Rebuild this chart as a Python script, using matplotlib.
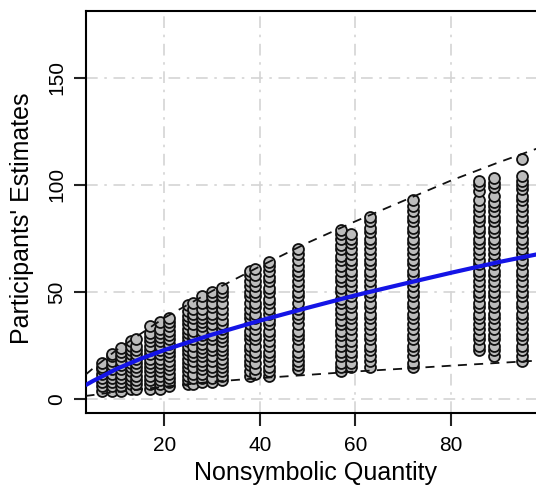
import matplotlib
matplotlib.use("Agg")
import matplotlib.pyplot as plt
import numpy as np

plt.rcParams['font.family'] = ['Liberation Sans', 'DejaVu Sans']

# Participants' estimates per nonsymbolic quantity
estimates = {
    7: [4, 6, 8, 10, 12, 14, 15, 17],
    9: [4, 6, 8, 10, 12, 14, 16, 18, 20, 21],
    11: [4, 6, 8, 10, 12, 14, 16, 18, 20, 22, 24],
    13: [5, 7, 9, 11, 13, 15, 17, 19, 21, 23, 25, 27],
    14: [5, 7, 9, 11, 13, 15, 17, 19, 21, 23, 25, 28],
    17: [5, 7, 9, 11, 13, 15, 17, 19, 21, 23, 25, 27, 29, 31, 34],
    19: [5, 7, 9, 11, 13, 15, 17, 19, 21, 23, 25, 27, 29, 31, 33, 36],
    21: [6, 8, 10, 12, 14, 16, 18, 20, 22, 24, 26, 28, 30, 32, 34, 36, 38],
    25: [7, 9, 11, 13, 15, 17, 19, 21, 23, 25, 27, 29, 31, 33, 35, 37, 39, 41, 44],
    26: [7, 10, 12, 15, 18, 20, 22, 25, 28, 30, 32, 35, 38, 40, 42, 45],
    28: [8, 10, 12, 14, 16, 18, 20, 22, 24, 26, 28, 30, 32, 34, 36, 38, 40, 42, 45, 48],
    30: [8, 10, 13, 15, 18, 20, 23, 25, 28, 30, 33, 35, 38, 40, 43, 45, 48, 50],
    32: [9, 11, 13, 15, 17, 19, 21, 23, 25, 27, 29, 31, 33, 35, 37, 40, 42, 45, 48, 50, 52],
    38: [11, 13, 16, 18, 20, 23, 25, 28, 30, 32, 35, 38, 40, 42, 45, 48, 50, 53, 55, 58, 60],
    39: [12, 14, 17, 20, 22, 25, 28, 30, 33, 35, 38, 40, 43, 45, 48, 50, 53, 55, 58, 61],
    42: [11, 13, 15, 18, 20, 22, 25, 27, 30, 32, 35, 37, 40, 42, 45, 47, 50, 52, 55, 57, 60, 62, 64],
    48: [14, 16, 18, 20, 22, 25, 28, 30, 32, 35, 38, 40, 42, 45, 48, 50, 53, 55, 58, 60, 62, 65, 68, 70],
    57: [13, 15, 17, 20, 22, 25, 27, 30, 32, 35, 37, 40, 42, 45, 47, 50, 52, 55, 57, 60, 62, 65, 67, 70, 72, 75, 77, 79],
    59: [15, 17, 20, 22, 25, 27, 30, 33, 35, 38, 40, 43, 45, 48, 50, 53, 55, 58, 60, 63, 65, 68, 70, 73, 75, 77],
    63: [15, 18, 20, 23, 25, 28, 30, 33, 35, 38, 40, 43, 45, 48, 50, 53, 55, 58, 60, 63, 65, 68, 70, 73, 75, 78, 80, 83, 85],
    72: [15, 17, 20, 23, 25, 28, 30, 33, 35, 38, 40, 43, 45, 48, 50, 53, 55, 58, 60, 63, 65, 68, 70, 73, 75, 78, 80, 83, 85, 88, 90, 93],
    86: [23, 25, 28, 30, 33, 35, 38, 40, 43, 45, 48, 50, 53, 55, 58, 60, 63, 65, 68, 70, 73, 75, 78, 80, 83, 85, 88, 90, 93, 97, 100, 102],
    89: [20, 23, 25, 28, 30, 33, 35, 38, 40, 43, 45, 48, 50, 53, 55, 58, 60, 63, 65, 68, 70, 73, 75, 78, 80, 83, 85, 88, 90, 92, 95, 99, 101, 103],
    95: [18, 20, 23, 25, 28, 30, 33, 35, 38, 40, 43, 45, 48, 50, 53, 55, 58, 60, 63, 65, 68, 70, 73, 75, 78, 80, 83, 85, 88, 90, 93, 95, 98, 100, 102, 104, 112],
}

# Fitted curve
fit_x = [3.5, 5, 7.5, 10, 15, 20, 30, 40, 50, 60, 70, 80, 90, 100, 104]
fit_y = [6.6, 8.5, 11.3, 14.2, 18.9, 23.0, 30.2, 36.7, 42.7, 48.5, 53.8, 59.0, 64.0, 68.5, 70.2]

# Dashed bounds
bound_x = [3.5, 5, 7.5, 10, 15, 20, 30, 40, 50, 60, 70, 80, 90, 100, 104]
upper_y = [11.5, 14.3, 18.7, 23.0, 30.5, 38.0, 50.5, 62.0, 73.0, 83.0, 92.5, 102.0, 110.5, 118.5, 121.5]
lower_y = [1.6, 2.0, 2.8, 3.4, 4.7, 5.9, 8.2, 9.9, 11.4, 13.0, 14.3, 15.7, 17.0, 18.3, 18.8]

xticks = [20, 40, 60, 80]
yticks = [0, 50, 100, 150]

W, H = 536, 487
fig = plt.figure(figsize=(W / 100, H / 100), dpi=100)
x0, x1 = 85.7, 560.6
y_top, y_bot = 11.0, 413.3
ax = fig.add_axes([x0 / W, 1 - y_bot / H, (x1 - x0) / W, (y_bot - y_top) / H])

xs, ys = [], []
for q, vals in estimates.items():
    xs.extend([q] * len(vals))
    ys.extend(vals)

ax.scatter(xs, ys, s=62, facecolor='#bcbcbc', edgecolor='#111111',
           linewidth=1.3, zorder=3)
ax.plot(bound_x, upper_y, color='#111111', linestyle=(0, (5, 4)), linewidth=1.3, zorder=4)
ax.plot(bound_x, lower_y, color='#111111', linestyle=(0, (5, 4)), linewidth=1.3, zorder=4)
ax.plot(fit_x, fit_y, color='#1414e6', linewidth=3.0, zorder=5, solid_capstyle='butt')

ax.set_xlim(3.54, 103)
ax.set_ylim(-6.5, 181.1)
ax.set_xticks(xticks)
ax.set_yticks(yticks)
ax.set_axisbelow(True)
ax.grid(True, color='#d4d4d4', linestyle=(0, (7, 4, 1.5, 4)), linewidth=1.2)

for s in ['top', 'left', 'bottom']:
    ax.spines[s].set_linewidth(1.5)
ax.spines['right'].set_visible(False)

ax.tick_params(axis='both', direction='out', length=9, width=1.5, labelsize=15,
               color='#222222')
ax.tick_params(axis='x', pad=7)
ax.tick_params(axis='y', pad=5, labelrotation=90)
for lab in ax.get_yticklabels():
    lab.set_va('center')

fig.text(315.5 / W, 1 - 473 / H, 'Nonsymbolic Quantity', ha='center', va='center',
         fontsize=18)
fig.text(22 / W, 1 - 218 / H, "Participants' Estimates", ha='center', va='center',
         rotation=90, fontsize=18)

fig.savefig('out.png', dpi=100)
